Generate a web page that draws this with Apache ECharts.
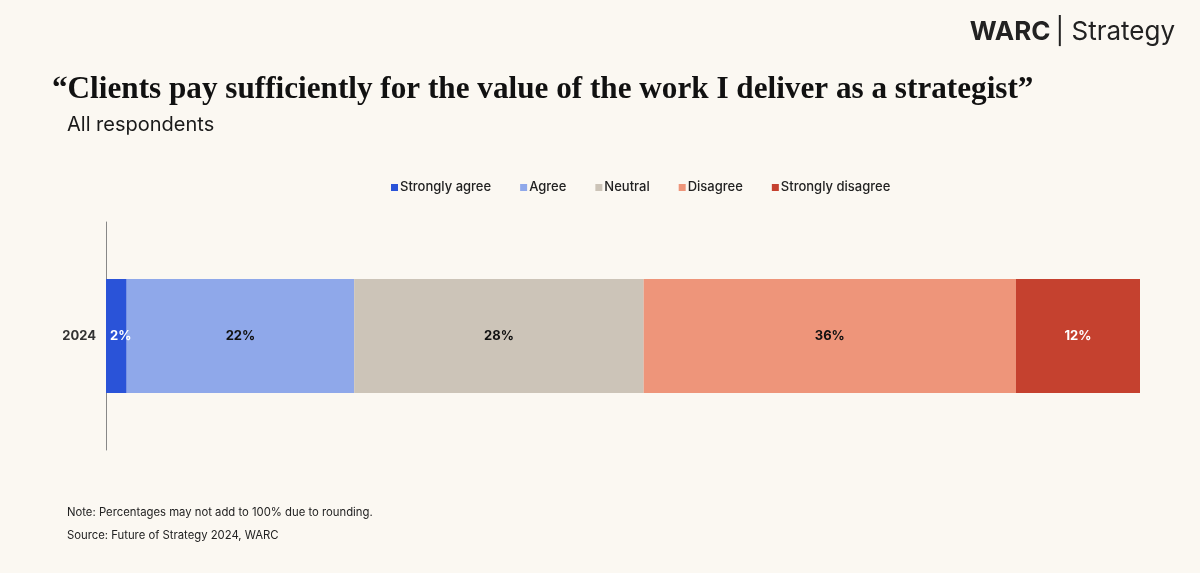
<!DOCTYPE html>
<html>
<head>
<meta charset="utf-8">
<script src="https://cdn.jsdelivr.net/npm/echarts@6/dist/echarts.min.js"></script>
<style>
html,body{margin:0;padding:0;background:#FBF8F2;}
#c{width:1200px;height:573px;}
</style>
</head>
<body>
<div id="c"></div>
<script>
const categories = ['2024'];
const seriesNames = ['Strongly agree', 'Agree', 'Neutral', 'Disagree', 'Strongly disagree'];
const stronglyAgree = [2];
const agree = [22];
const neutral = [28];
const disagree = [36];
const stronglyDisagree = [12];
const colors = ['#2A53D8', '#8FA8EA', '#CCC4B8', '#EE957A', '#C5412F'];
const labelColors = ['#ffffff', '#111111', '#111111', '#111111', '#ffffff'];
const values = [stronglyAgree, agree, neutral, disagree, stronglyDisagree];

const chart = echarts.init(document.getElementById('c'));
const sans = 'Inter, "Noto Sans", sans-serif';
chart.setOption({
  backgroundColor: '#FBF8F2',
  animation: false,
  title: [
    {text: '\u201CClients pay sufficiently for the value of the work I deliver as a strategist\u201D', left: 52, top: 74, padding: 0,
     textStyle: {fontFamily: '"Liberation Serif", "DejaVu Serif", serif', fontWeight: 'bold', fontSize: 31.2, color: '#111111'}},
    {text: 'All respondents', left: 67, top: 115, padding: 0,
     textStyle: {fontFamily: sans, fontWeight: 'normal', fontSize: 20, color: '#1a1a1a'}},
    {text: '{b|WARC} {n|| Strategy}', right: 25, top: 19, padding: 0,
     textStyle: {rich: {
       b: {fontFamily: sans, fontWeight: 'bold', fontSize: 26, color: '#222222'},
       n: {fontFamily: sans, fontWeight: 'normal', fontSize: 26, color: '#222222'}
     }}},
    {text: 'Note: Percentages may not add to 100% due to rounding.', left: 67, top: 507, padding: 0,
     textStyle: {fontFamily: sans, fontWeight: 'normal', fontSize: 11.3, color: '#222222'}},
    {text: 'Source: Future of Strategy 2024, WARC', left: 67, top: 530, padding: 0,
     textStyle: {fontFamily: sans, fontWeight: 'normal', fontSize: 11.3, color: '#222222'}}
  ],
  legend: {
    top: 176, left: 386,
    itemWidth: 7, itemHeight: 7, itemGap: 29,
    icon: 'rect',
    data: seriesNames,
    textStyle: {fontFamily: sans, fontSize: 13, fontWeight: 500, color: '#222222', padding: [0, 0, 0, -3]}
  },
  grid: {left: 106, right: 60, top: 222, bottom: 123, containLabel: false},
  xAxis: {type: 'value', min: 0, max: 100, show: false},
  yAxis: {
    type: 'category', data: categories,
    axisLine: {show: true, lineStyle: {color: '#888888', width: 1}},
    axisTick: {show: false},
    axisLabel: {fontFamily: sans, fontWeight: 'bold', fontSize: 13, color: '#333333', margin: 10}
  },
  series: seriesNames.map((name, i) => ({
    name: name, type: 'bar', stack: 'total', barWidth: '50%',
    data: values[i],
    itemStyle: {color: colors[i]},
    label: {show: true, position: i === 0 ? 'insideLeft' : 'inside', distance: 4, formatter: '{c}%',
      fontFamily: sans, fontWeight: 'bold', fontSize: 13, color: labelColors[i]}
  }))
});
</script>
</body>
</html>
